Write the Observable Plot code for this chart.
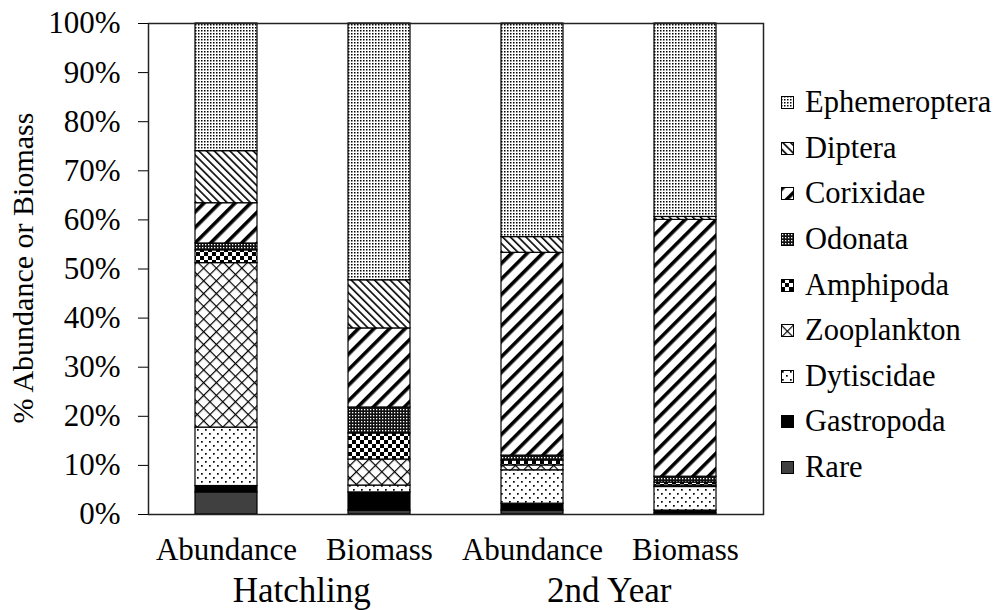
<!DOCTYPE html>
<html>
<head>
<meta charset="utf-8">
<script src="https://cdn.jsdelivr.net/npm/d3@7"></script>
<script src="https://cdn.jsdelivr.net/npm/@observablehq/plot@0.6"></script>
<style>
  html, body { margin: 0; padding: 0; background: #fff; font-family: 'Liberation Serif', 'Times New Roman', serif; }
  #wrap { position: relative; width: 1000px; height: 610px; }
  #wrap svg, #wrap svg text, #legend, #legend span { font-family: 'Liberation Serif', 'Times New Roman', serif !important; }
  #legend { position: absolute; left: 781px; top: 80px; }
  .item { display: flex; align-items: center; height: 45.6px; font-size: 30.5px; color: #000; }
  .item svg { margin-right: 11px; }
</style>
</head>
<body>
<svg width="0" height="0" style="position:absolute">
  <defs>
    <pattern id="p-Ephemeroptera" width="3" height="3" patternUnits="userSpaceOnUse">
      <rect width="3" height="3" fill="#fff"/><rect width="1.5" height="1.5" fill="#000"/>
    </pattern>
    <pattern id="p-Diptera" width="5.5" height="5.5" patternUnits="userSpaceOnUse" patternTransform="rotate(-45)">
      <rect width="5.5" height="5.5" fill="#fff"/><rect width="1.6" height="5.5" fill="#000"/>
    </pattern>
    <pattern id="p-Corixidae" width="11" height="11" patternUnits="userSpaceOnUse" patternTransform="rotate(45)">
      <rect width="11" height="11" fill="#fff"/><rect width="3.6" height="11" fill="#000"/>
    </pattern>
    <pattern id="p-Odonata" width="3" height="3" patternUnits="userSpaceOnUse">
      <rect width="3" height="3" fill="#111"/><rect x="1" y="1" width="1.3" height="1.3" fill="#fff"/>
    </pattern>
    <pattern id="p-Amphipoda" width="8" height="8" patternUnits="userSpaceOnUse">
      <rect width="8" height="8" fill="#fff"/><rect width="4" height="4" fill="#000"/><rect x="4" y="4" width="4" height="4" fill="#000"/>
    </pattern>
    <pattern id="p-Zooplankton" width="9" height="9" patternUnits="userSpaceOnUse" patternTransform="rotate(45)">
      <rect width="9" height="9" fill="#fff"/><rect width="1.2" height="9" fill="#000"/><rect width="9" height="1.2" fill="#000"/>
    </pattern>
    <pattern id="p-Dytiscidae" width="8" height="8" patternUnits="userSpaceOnUse">
      <rect width="8" height="8" fill="#fff"/><rect x="1" y="1" width="1.7" height="1.7" fill="#000"/><rect x="5" y="5" width="1.7" height="1.7" fill="#000"/>
    </pattern>
    <pattern id="p-Gastropoda" width="4" height="4" patternUnits="userSpaceOnUse">
      <rect width="4" height="4" fill="#000"/>
    </pattern>
    <pattern id="p-Rare" width="4" height="4" patternUnits="userSpaceOnUse">
      <rect width="4" height="4" fill="#404040"/>
    </pattern>
  </defs>
</svg>
<div id="wrap">
  <div id="chart"></div>
  <div id="legend"></div>
</div>
<script>
// ---- data ----
const barKeys = ["HA", "HB", "YA", "YB"];
const barLabels = ["Abundance", "Biomass", "Abundance", "Biomass"];
const groups = ["Hatchling", "2nd Year"];
const groupBars = [["HA", "HB"], ["YA", "YB"]];
const taxa = ["Rare", "Gastropoda", "Dytiscidae", "Zooplankton", "Amphipoda", "Odonata", "Corixidae", "Diptera", "Ephemeroptera"];
const hatchlingAbundance = [4.5, 1.3, 11.9, 33.5, 2.6, 1.4, 8.2, 10.6, 26.0];
const hatchlingBiomass   = [0.8, 3.7, 1.4, 5.3, 5.3, 5.3, 16.1, 9.8, 52.3];
const year2Abundance     = [0.8, 1.4, 6.8, 1.0, 1.0, 1.0, 41.3, 3.2, 43.5];
const year2Biomass       = [0.2, 0.6, 4.8, 0.3, 0.6, 1.2, 52.3, 0.6, 39.4];
const yTicks = [0, 10, 20, 30, 40, 50, 60, 70, 80, 90, 100];
const yTitle = "% Abundance or Biomass";

const series = [hatchlingAbundance, hatchlingBiomass, year2Abundance, year2Biomass];
const rows = [];
barKeys.forEach((b, i) => taxa.forEach((t, j) => rows.push({bar: b, taxon: t, value: series[i][j]})));

const font = "'Liberation Serif', 'Times New Roman', serif";

const chart = Plot.plot({
  width: 1000,
  height: 610,
  marginLeft: 148,
  marginRight: 237,
  marginTop: 23,
  marginBottom: 96,
  style: {fontFamily: font, fontSize: "31px", color: "#000", background: "#fff"},
  x: {domain: barKeys, paddingInner: 0.597, paddingOuter: 0.2985, tickSize: 0, tickPadding: 23,
      tickFormat: d => barLabels[barKeys.indexOf(d)], label: null},
  y: {domain: [0, 100], ticks: yTicks, tickFormat: d => d + "%", tickSize: 10, tickPadding: 18, label: null},
  color: {type: "ordinal", domain: taxa, range: taxa.map(t => `url(#p-${t})`)},
  marks: [
    Plot.barY(rows, {x: "bar", y: "value", fill: "taxon", order: taxa, stroke: "#000", strokeWidth: 1.2}),
    Plot.frame({stroke: "#222", strokeWidth: 1.5})
  ]
});
document.getElementById("chart").appendChild(chart);

// group labels & y title using the plot's x scale
const xs = chart.scale("x");
const band = d3.scaleBand().domain(xs.domain).range(xs.range)
  .paddingInner(xs.paddingInner ?? 0.597).paddingOuter(xs.paddingOuter ?? 0.2985).align(xs.align ?? 0.5);
const svg = d3.select(chart);
groups.forEach((g, i) => {
  const [a, b] = groupBars[i];
  const cx = (band(a) + band(b) + band.bandwidth()) / 2;
  svg.append("text").attr("x", cx).attr("y", 602).attr("text-anchor", "middle")
    .style("font-size", "35px").style("font-family", font).attr("fill", "#000").text(g);
});
svg.append("text").attr("transform", "translate(33,268) rotate(-90)").attr("text-anchor", "middle")
  .style("font-size", "30px").style("font-family", font).attr("fill", "#000").text(yTitle);

// legend (top to bottom: reverse stack order)
const legend = document.getElementById("legend");
taxa.slice().reverse().forEach(t => {
  const div = document.createElement("div");
  div.className = "item";
  div.innerHTML = `<svg width="13" height="13"><rect x="0.5" y="0.5" width="12" height="12" fill="url(#p-${t})" stroke="#000" stroke-width="1"/></svg><span>${t}</span>`;
  legend.appendChild(div);
});
</script>
</body>
</html>
